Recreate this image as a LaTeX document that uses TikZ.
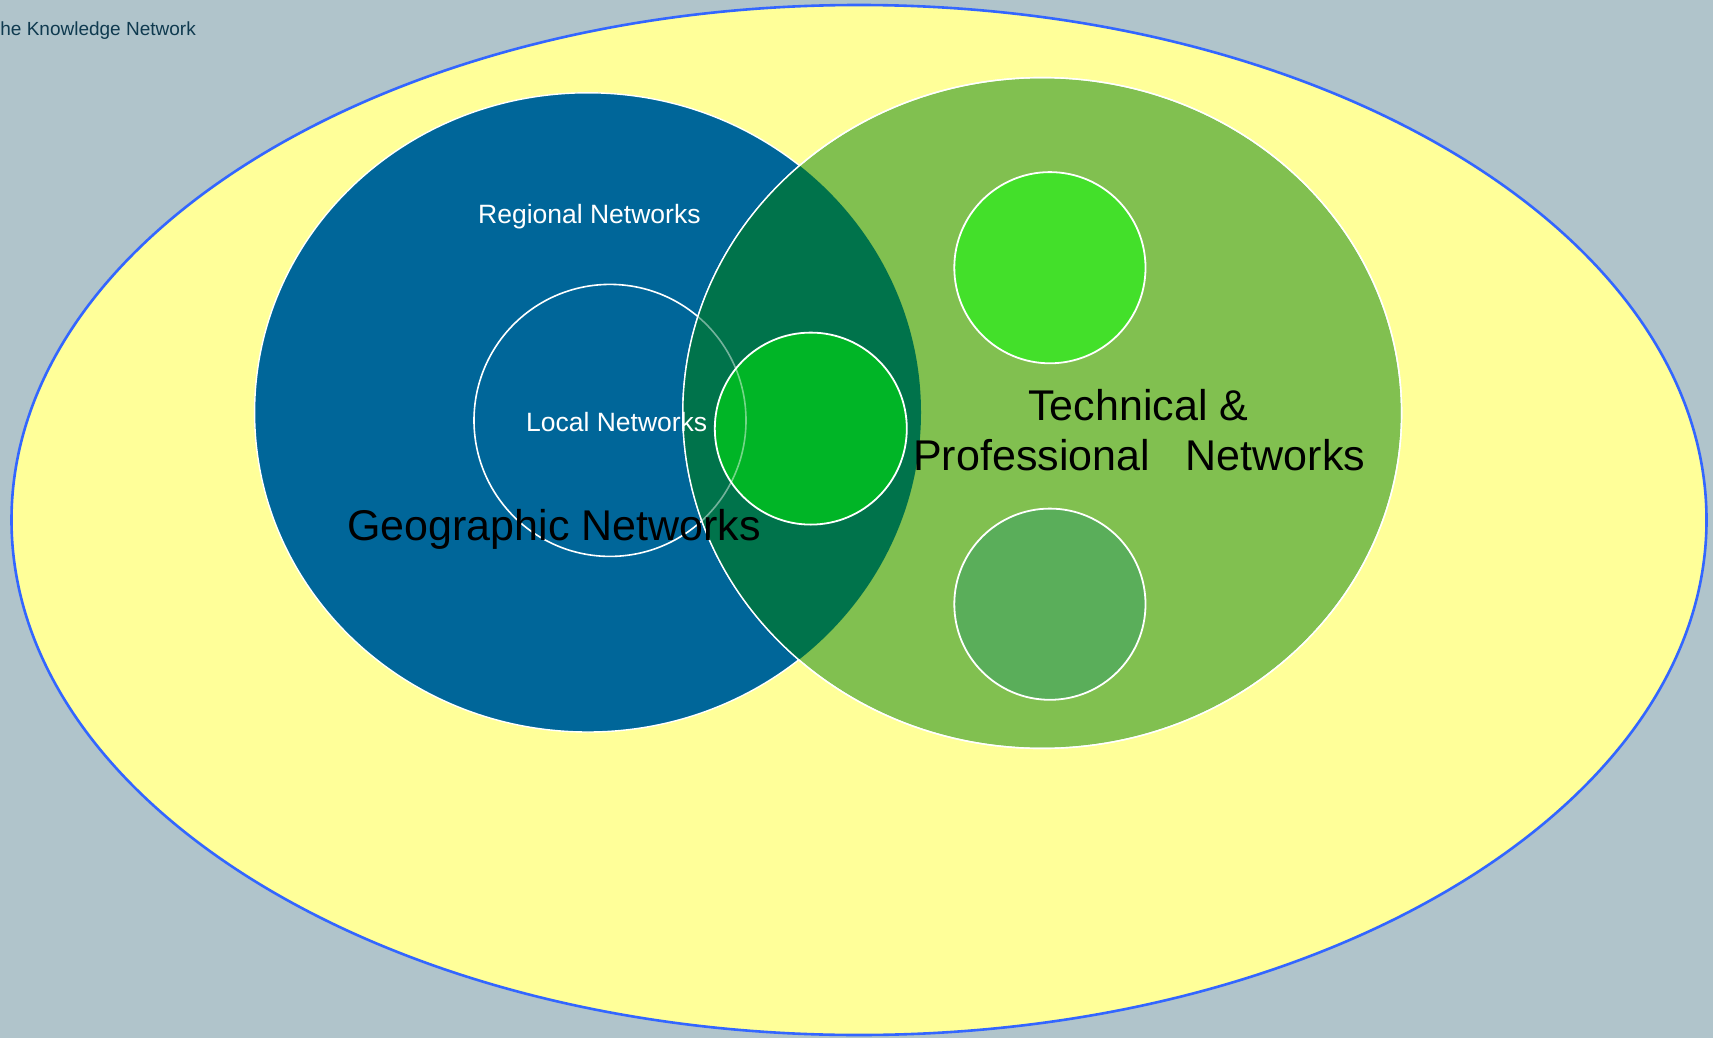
\documentclass[tikz,border=0pt]{standalone}
\usepackage{fontspec}
\setmainfont{Liberation Sans}
\definecolor{bgc}{HTML}{B0C4CB}
\definecolor{yel}{HTML}{FFFF99}
\definecolor{rimc}{HTML}{3366FF}
\definecolor{geoc}{HTML}{006699}
\definecolor{techc}{HTML}{81C050}
\definecolor{overc}{HTML}{00734B}
\definecolor{midc}{HTML}{00B526}
\definecolor{limec}{HTML}{43E02A}
\definecolor{sagec}{HTML}{5AAE5A}
\definecolor{titlec}{HTML}{0F3A4F}
\begin{document}
\begin{tikzpicture}[x=1pt,y=-1pt,
  rim/.style={white,line width=1.6pt},
  lbl/.style={inner sep=0pt,anchor=base},
  smalllbl/.style={lbl,text=white,font=\fontsize{26.5}{30}\selectfont},
  biglbl/.style={lbl,text=black,font=\fontsize{43}{50}\selectfont}]
\useasboundingbox (0,0) rectangle (1713,1038);
\clip (0,0) rectangle (1713,1038);
\fill[bgc] (0,0) rectangle (1713,1038);
% outer ellipse
\filldraw[fill=yel,draw=rimc,line width=2.6pt] (859,520) ellipse [x radius=847.5, y radius=515];
% geographic
\filldraw[fill=geoc,draw=white,line width=1.4pt] (587.8,412.4) ellipse [x radius=333.2, y radius=319.6];
% local circle
\draw[rim] (610,420.4) circle [radius=136];
% technical
\filldraw[fill=techc,draw=white,line width=1.4pt] (1042.2,413) ellipse [x radius=359.4, y radius=335.4];
% overlap
\begin{scope}
  \clip (587.8,412.4) ellipse [x radius=333.2, y radius=319.6];
  \fill[overc] (1042.2,413) ellipse [x radius=359.4, y radius=335.4];
\end{scope}
\draw[white,line width=1.4pt] (1042.2,413) ellipse [x radius=359.4, y radius=335.4];
% middle circle
\filldraw[fill=midc,draw=white,line width=1.8pt] (810.8,428.6) circle [radius=96];
% faint continuation of local circle
\begin{scope}
  \clip (1042.2,413) ellipse [x radius=359.4, y radius=335.4];
  \draw[white,opacity=0.45,line width=1.6pt] (610,420.4) circle [radius=136];
\end{scope}
% right circles
\filldraw[fill=limec,draw=white,line width=1.8pt] (1049.9,267.7) circle [radius=95.6];
\filldraw[fill=sagec,draw=white,line width=1.8pt] (1049.9,604.2) circle [radius=95.6];
% texts
\node[smalllbl] (regional) at (589.4,223.4) {Regional Networks};
\node[smalllbl] (local) at (616.7,431.7) {Local Networks};
\node[biglbl] (geo) at (554,540) {Geographic Networks};
\node[biglbl] (tech1) at (1138.3,420.7) {Technical \&};
\node[biglbl] (tech2) at (1139.2,470) {Professional\hspace{0.84em}Networks};
\node[inner sep=0pt,anchor=base east,text=titlec,font=\fontsize{19}{22}\selectfont] (title) at (196,35.5) {The Knowledge Network};
\end{tikzpicture}
\end{document}
